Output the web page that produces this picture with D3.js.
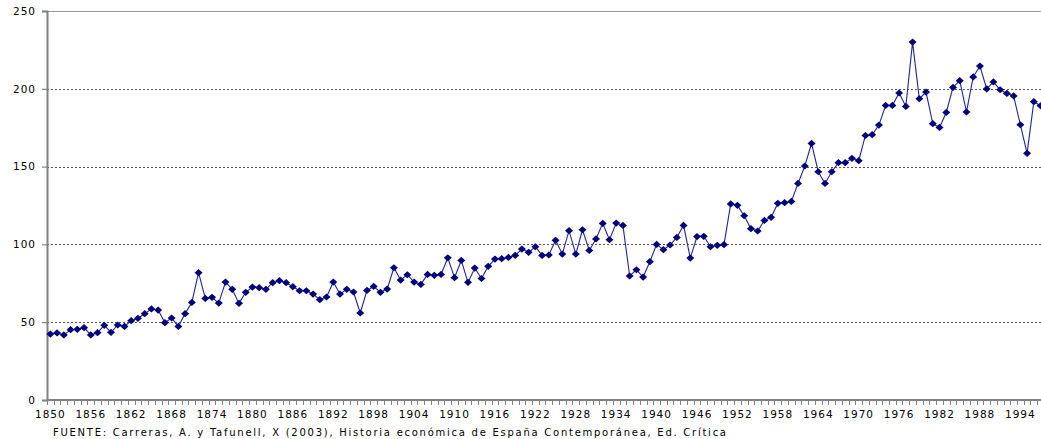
<!DOCTYPE html>
<html lang="es">
<head>
<meta charset="UTF-8">
<title>Producción industrial</title>
<style>
  html, body { margin: 0; padding: 0; background: #fff; overflow: hidden; }
  svg { display: block; }
  text { font-family: "DejaVu Sans", Verdana, sans-serif; fill: #000; }
</style>
</head>
<body>
<div id="target"></div>
<script src="https://d3js.org/d3.v7.min.js"></script>
<script>
const startYear = 1850;
const values = [
  42.4, 43.1, 41.8, 45.2, 45.4, 46.5, 41.8, 43.3, 48.0, 43.5,   // 1850-59
  48.2, 47.3, 51.0, 52.5, 55.5, 58.5, 57.8, 49.7, 52.7, 47.3,   // 1860-69
  55.5, 62.7, 81.8, 65.3, 66.0, 62.3, 75.8, 71.1, 62.1, 69.2,   // 1870-79
  72.6, 72.2, 71.1, 75.4, 76.7, 75.4, 72.8, 70.2, 70.2, 68.1,   // 1880-89
  64.5, 66.2, 75.8, 68.1, 71.1, 69.4, 55.9, 70.4, 73.0, 69.2,   // 1890-99
  71.3, 85.0, 77.1, 80.5, 75.8, 74.3, 80.7, 80.1, 80.7, 91.4,   // 1900-09
  78.6, 89.7, 75.6, 84.8, 78.1, 85.9, 90.6, 90.8, 91.6, 92.9,   // 1910-19
  97.0, 94.9, 98.5, 92.9, 93.2, 102.6, 93.8, 108.8, 93.8, 109.4, // 1920-29
  96.1, 103.5, 113.5, 103.0, 113.7, 112.2, 79.7, 83.7, 79.0, 88.9, // 1930-39
  100.0, 96.6, 99.6, 104.5, 112.2, 91.2, 105.0, 105.2, 98.5, 99.4, // 1940-49
  99.8, 126.0, 125.1, 118.4, 110.1, 108.6, 115.4, 117.4, 126.4, 126.8, // 1950-59
  127.6, 139.2, 150.4, 164.9, 146.7, 139.2, 146.7, 152.5, 152.5, 155.3, // 1960-69
  153.8, 170.0, 170.5, 176.7, 189.3, 189.3, 197.3, 188.7, 230.0, 193.6, // 1970-79
  197.9, 177.6, 175.2, 184.8, 200.9, 205.2, 185.1, 207.6, 214.6, 199.9, // 1980-89
  204.4, 199.4, 197.0, 195.4, 176.9, 158.5, 191.7, 189.1               // 1990-97
];
const years = d3.range(startYear, startYear + values.length);
const xTickLabels = [1850, 1856, 1862, 1868, 1874, 1880, 1886, 1892, 1898, 1904,
  1910, 1916, 1922, 1928, 1934, 1940, 1946, 1952, 1958, 1964, 1970, 1976, 1982, 1988, 1994];
const yTicks = [0, 50, 100, 150, 200, 250];
const source = "FUENTE: Carreras, A. y Tafunell, X (2003), Historia económica de España Contemporánea, Ed. Crítica";

const width = 1041, height = 439;
const plotLeft = 47, plotTop = 11, plotBottom = 400;
const step = 6.736;

const svg = d3.select("#target").append("svg")
  .attr("width", width).attr("height", height);

const x = d3.scaleBand()
  .domain(years)
  .range([plotLeft, plotLeft + years.length * step])
  .padding(0);
const y = d3.scaleLinear().domain([0, 250]).range([plotBottom, plotTop]);
const cx = d => x(d) + x.bandwidth() / 2;

// gridlines
svg.append("g").selectAll("line")
  .data(yTicks.filter(t => t > 0 && t < 250))
  .join("line")
  .attr("x1", plotLeft).attr("x2", width)
  .attr("y1", d => Math.round(y(d)) + 0.5).attr("y2", d => Math.round(y(d)) + 0.5)
  .attr("stroke", "#555").attr("stroke-width", 1)
  .attr("stroke-dasharray", "2,2");

// top border
svg.append("line")
  .attr("x1", plotLeft).attr("x2", width)
  .attr("y1", Math.round(y(250)) + 0.5).attr("y2", Math.round(y(250)) + 0.5)
  .attr("stroke", "#9a9a9a").attr("stroke-width", 1);

// y axis
const yAxis = svg.append("g").attr("transform", `translate(${plotLeft},0)`)
  .call(d3.axisLeft(y).tickValues(yTicks).tickSize(5).tickPadding(6));
yAxis.select(".domain").attr("stroke", "#808080").attr("stroke-width", 2);
yAxis.selectAll(".tick line").attr("stroke", "#808080").attr("stroke-width", 1.2);
yAxis.selectAll("text")
  .attr("font-family", null).attr("font-size", null)
  .style("font-size", "10.5px").style("letter-spacing", "1px");
yAxis.attr("font-family", null).attr("font-size", null);

// x axis: a tick at every category boundary, labels every 6 years
const xAxis = svg.append("g").attr("transform", `translate(0,${plotBottom})`);
xAxis.append("line")
  .attr("x1", plotLeft).attr("x2", width).attr("y1", 0).attr("y2", 0)
  .attr("stroke", "#808080").attr("stroke-width", 2);
xAxis.selectAll("line.tk")
  .data(years)
  .join("line").attr("class", "tk")
  .attr("x1", d => Math.round(x(d)) + 0.5).attr("x2", d => Math.round(x(d)) + 0.5)
  .attr("y1", 0).attr("y2", 5)
  .attr("stroke", "#808080").attr("stroke-width", 1);
xAxis.selectAll("text")
  .data(xTickLabels)
  .join("text")
  .attr("x", d => cx(d)).attr("y", 18)
  .attr("text-anchor", "middle")
  .style("font-size", "10.5px").style("letter-spacing", "1px")
  .text(d => d);

// series
const line = d3.line().x((d, i) => cx(years[i])).y(d => y(d));
svg.append("path")
  .datum(values)
  .attr("fill", "none")
  .attr("stroke", "#23239a")
  .attr("stroke-width", 1.1)
  .attr("d", line);

const diamond = "M0,-3.6L4,0L0,3.6L-4,0Z";
svg.append("g").selectAll("path")
  .data(values)
  .join("path")
  .attr("transform", (d, i) => `translate(${cx(years[i])},${y(d)})`)
  .attr("d", diamond)
  .attr("fill", "#000080");

// source note
svg.append("text")
  .attr("x", 53).attr("y", 436)
  .attr("textLength", 673).attr("lengthAdjust", "spacing")
  .style("font-size", "10px")
  .text(source);
</script>
</body>
</html>
